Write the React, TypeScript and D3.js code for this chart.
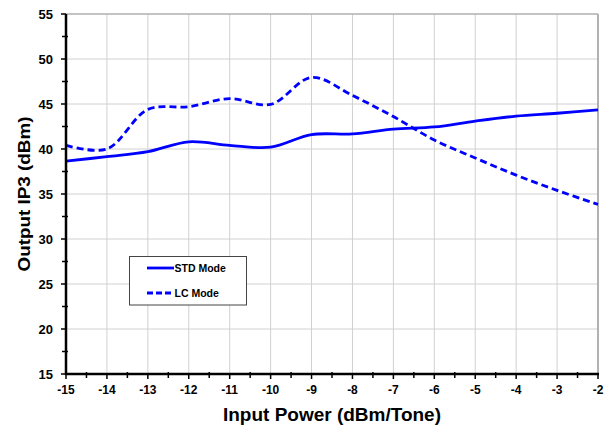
import React from "react";
import * as d3 from "d3";

const inputPower = [-15, -14, -13, -12, -11, -10, -9, -8, -7, -6, -5, -4, -3, -2];
const stdMode = [38.65, 39.15, 39.7, 40.8, 40.4, 40.2, 41.6, 41.67, 42.2, 42.45, 43.1, 43.65, 43.97, 44.35];
const lcMode = [40.4, 40.0, 44.4, 44.7, 45.6, 44.95, 47.95, 45.95, 43.6, 41.0, 39.0, 37.1, 35.4, 33.85];
const xTicks = [-15, -14, -13, -12, -11, -10, -9, -8, -7, -6, -5, -4, -3, -2];
const yTicks = [15, 20, 25, 30, 35, 40, 45, 50, 55];
const legendLabels = ["STD Mode", "LC Mode"];

export default function App() {
  const W = 614, H = 430;
  const left = 66, right = 598, top = 14, bottom = 374;
  const x = d3.scaleLinear().domain([-15, -2]).range([left, right]);
  const y = d3.scaleLinear().domain([15, 55]).range([bottom, top]);
  const line = d3
    .line<number>()
    .x((_, i) => x(inputPower[i]))
    .y((d) => y(d))
    .curve(d3.curveCatmullRom.alpha(0.5));
  const font = "'Liberation Sans', Arial, sans-serif";
  const xMinor = d3.range(-14.5, -2, 1);
  const yMinor = d3.range(17.5, 55, 5);
  const blue = "#0000ff";
  return (
    <svg width={W} height={H} style={{ position: "absolute", left: 0, top: 0, background: "#fff" }}>
      {/* grid */}
      {xTicks.slice(1).map((t) => (
        <line key={"gx" + t} x1={x(t)} x2={x(t)} y1={top} y2={bottom} stroke="#d0d0d0" strokeWidth={1} />
      ))}
      {yTicks.slice(1).map((t) => (
        <line key={"gy" + t} x1={left} x2={right} y1={y(t)} y2={y(t)} stroke="#d0d0d0" strokeWidth={1} />
      ))}
      <line x1={left} x2={right} y1={top} y2={top} stroke="#a0a0a0" strokeWidth={1} />
      <line x1={right} x2={right} y1={top} y2={bottom} stroke="#a0a0a0" strokeWidth={1.5} />
      {/* series */}
      <path d={line(stdMode) || ""} fill="none" stroke={blue} strokeWidth={2.8} />
      <path d={line(lcMode) || ""} fill="none" stroke={blue} strokeWidth={2.8} strokeDasharray="7,4" />
      {/* axes */}
      <line x1={left} x2={left} y1={top} y2={bottom + 1} stroke="#000" strokeWidth={2.5} />
      <line x1={left - 1} x2={right + 1} y1={bottom} y2={bottom} stroke="#000" strokeWidth={2.5} />
      {yTicks.map((t) => (
        <line key={"ty" + t} x1={left - 5} x2={left} y1={y(t)} y2={y(t)} stroke="#000" strokeWidth={1.5} />
      ))}
      {yMinor.map((t) => (
        <line key={"my" + t} x1={left - 4} x2={left + 2} y1={y(t)} y2={y(t)} stroke="#000" strokeWidth={1.5} />
      ))}
      {xTicks.map((t) => (
        <line key={"tx" + t} x1={x(t)} x2={x(t)} y1={bottom} y2={bottom + 5} stroke="#000" strokeWidth={1.5} />
      ))}
      {xMinor.map((t) => (
        <line key={"mx" + t} x1={x(t)} x2={x(t)} y1={bottom - 2} y2={bottom + 4} stroke="#000" strokeWidth={1.5} />
      ))}
      {yTicks.map((t) => (
        <text key={"ly" + t} x={left - 13} y={y(t) + 4.5} textAnchor="end" fontFamily={font} fontWeight="bold" fontSize={13} fill="#000">
          {t}
        </text>
      ))}
      {xTicks.map((t) => (
        <text key={"lx" + t} x={x(t)} y={bottom + 20} textAnchor="middle" fontFamily={font} fontWeight="bold" fontSize={12} fill="#000">
          {t}
        </text>
      ))}
      <text x={332} y={421} textAnchor="middle" fontFamily={font} fontWeight="bold" fontSize={17.5} textLength={218} lengthAdjust="spacingAndGlyphs" fill="#000">
        Input Power (dBm/Tone)
      </text>
      <text
        transform={`translate(30,${(top + bottom) / 2}) rotate(-90)`}
        textAnchor="middle"
        fontFamily={font}
        fontWeight="bold"
        fontSize={17}
        textLength={155}
        lengthAdjust="spacingAndGlyphs"
        fill="#000"
      >
        Output IP3 (dBm)
      </text>
      {/* legend */}
      <rect x={129.5} y={256.5} width={117} height={48.5} fill="#fff" stroke="#444" strokeWidth={1} />
      <line x1={147} x2={174} y1={268} y2={268} stroke={blue} strokeWidth={2.8} />
      <line x1={147} x2={174} y1={293} y2={293} stroke={blue} strokeWidth={2.8} strokeDasharray="6,3" />
      <text x={174.5} y={271.5} fontFamily={font} fontWeight="bold" fontSize={10.5} fill="#000">
        {legendLabels[0]}
      </text>
      <text x={174.5} y={296.5} fontFamily={font} fontWeight="bold" fontSize={10.5} fill="#000">
        {legendLabels[1]}
      </text>
    </svg>
  );
}
